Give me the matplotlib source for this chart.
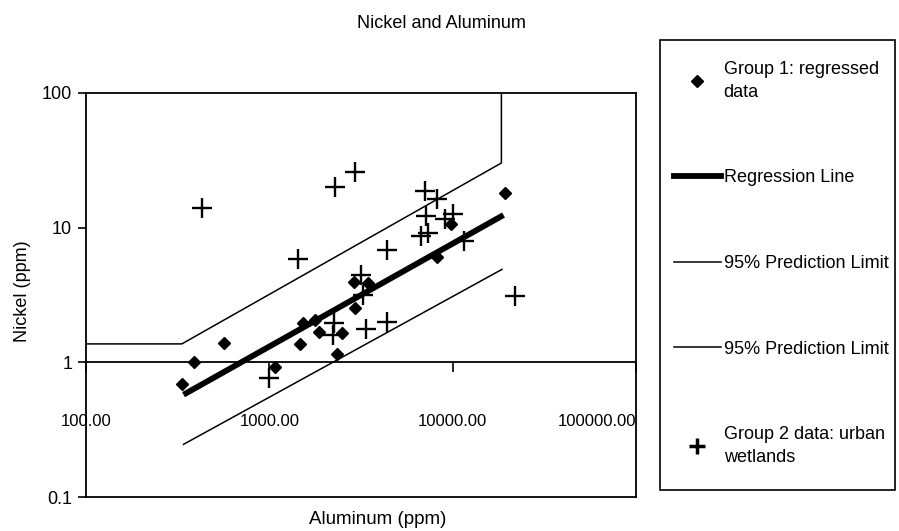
import numpy as np
import matplotlib
matplotlib.use('Agg')
import matplotlib.pyplot as plt
from matplotlib.lines import Line2D
from matplotlib.patches import Rectangle

plt.rcParams['font.family'] = ['Liberation Sans', 'DejaVu Sans']
plt.rcParams['font.size'] = 13


#
# Data
#

# Group 1: regressed data
group1_al = [334, 388, 565, 1076, 1471, 1521, 1781, 1871, 2332, 2484, 2880, 3450, 2936, 8180, 9825, 19300]
group1_ni = [0.69, 1.0, 1.4, 0.93, 1.36, 1.95, 2.05, 1.68, 1.16, 1.64, 3.95, 3.86, 2.53, 6.1, 10.6, 18.0]

# Group 2 data: urban wetlands
group2_al = [431, 996, 1436, 2275, 2925, 3170, 3251, 2244, 2234, 3344, 4375, 4395,
             7015, 8240, 7180, 10070, 9055, 7280, 6690, 11550, 21700]
group2_ni = [13.9, 0.77, 5.8, 20.1, 25.8, 4.47, 3.16, 1.95, 1.59, 1.78, 2.0, 6.8,
             18.6, 16.4, 12.1, 12.6, 11.6, 9.1, 8.6, 7.9, 3.1]

# regression line and 95% prediction limits
reg_al = [340, 18900]
reg_ni = [0.575, 12.4]

upper_al = [100, 333, 18400, 18400]
upper_ni = [1.37, 1.37, 30.2, 100]

lower_al = [340, 18550]
lower_ni = [0.246, 4.9]

x_ticks = [100, 1000, 10000, 100000]
x_ticklabels = ['100.00', '1000.00', '10000.00', '100000.00']
y_ticks = [0.1, 1, 10, 100]
y_ticklabels = ['0.1', '1', '10', '100']


#
# Plot
#

fig = plt.figure(figsize=(8.99, 5.31), dpi=100)
ax = fig.add_axes([0.0957, 0.064, 0.612, 0.761])
ax.set_xscale('log')
ax.set_yscale('log')
ax.set_xlim(100, 100000)
ax.set_ylim(0.1, 100)

ax.plot(upper_al, upper_ni, color='black', lw=1.1)
ax.plot(lower_al, lower_ni, color='black', lw=1.1)
ax.plot(reg_al, reg_ni, color='black', lw=4.2, solid_capstyle='butt')
ax.plot(group1_al, group1_ni, ls='none', marker='D', ms=6, color='black')
ax.plot(group2_al, group2_ni, ls='none', marker='+', ms=15, mew=1.7, color='black')

# x axis crosses at Nickel = 1, frame closed at the bottom
ax.spines['bottom'].set_position(('data', 1))
ax.axhline(0.1, color='black', lw=1.3, clip_on=False)
for s in ax.spines.values():
    s.set_linewidth(1.3)

ax.set_xticks(x_ticks, x_ticklabels)
ax.set_yticks(y_ticks, y_ticklabels)
ax.minorticks_off()
ax.tick_params(axis='x', direction='out', length=7, width=1.2, pad=30, labelsize=12)
ax.tick_params(axis='y', direction='out', length=6, width=1.2, pad=4)
ax.get_xticklabels()[-1].set_ha('right')

fig.text(441 / 899, 1 - 23 / 531, 'Nickel and Aluminum', ha='center', va='center')
fig.text(378 / 899, 1 - 520 / 531, 'Aluminum (ppm)', ha='center', va='center', fontsize=13.5)
fig.text(23 / 899, 1 - 291 / 531, 'Nickel (ppm)', rotation=90, ha='center', va='center')

# legend: entries without frame, box drawn separately (text runs up to the border)
handles = [Line2D([], [], ls='none', marker='D', ms=6, color='black'),
           Line2D([], [], lw=4.2, color='black'),
           Line2D([], [], lw=1.1, color='black'),
           Line2D([], [], lw=1.1, color='black'),
           Line2D([], [], ls='none', marker='+', ms=12, mew=2.5, color='black')]
labels = ['Group 1: regressed\ndata', 'Regression Line', '95% Prediction Limit',
          '95% Prediction Limit', 'Group 2 data: urban\nwetlands']
leg = fig.legend(handles, labels, loc='upper left', bbox_to_anchor=(674 / 899, 1 - 61 / 531),
                 frameon=False, labelspacing=3.8, handlelength=2.6, handletextpad=0.15,
                 borderpad=0, borderaxespad=0)
for t in leg.get_texts():
    t.set_linespacing(1.45)
fig.patches.append(Rectangle((660 / 899, 1 - 490 / 531), 235 / 899, 450 / 531,
                             transform=fig.transFigure, fill=False,
                             edgecolor='black', lw=1.2))

fig.savefig('out.png', dpi=100)
